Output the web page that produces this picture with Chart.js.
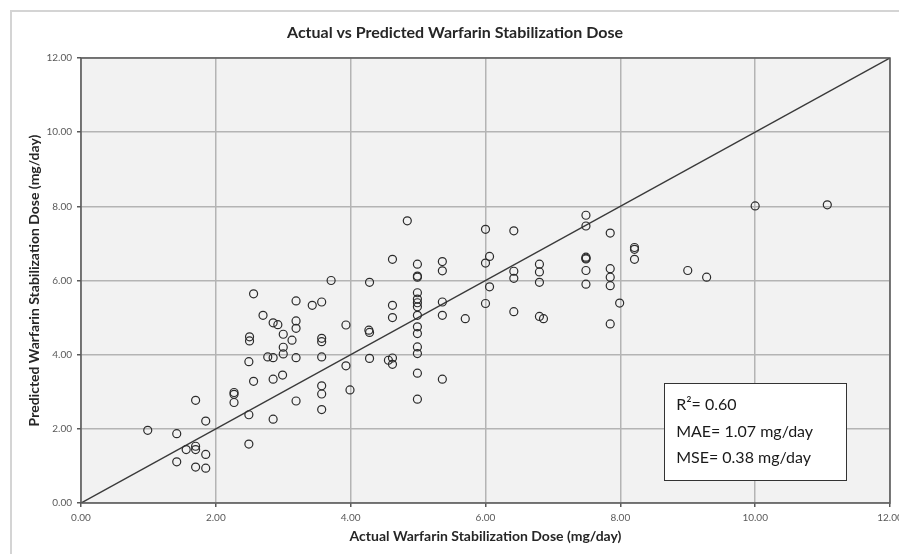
<!DOCTYPE html>
<html>
<head>
<meta charset="utf-8">
<script src="https://cdn.jsdelivr.net/npm/chart.js@4.4.1/dist/chart.umd.min.js"></script>
<style>
  html, body { margin: 0; padding: 0; background: #fff; }
  #wrap { position: relative; width: 899px; height: 554px; }
</style>
</head>
<body>
<div id="wrap"><canvas id="doseChart" width="899" height="554"></canvas></div>
<script>
// Actual vs predicted warfarin dose (mg/day)
const actualDose = [
  0.99, 1.42, 1.42, 1.56, 1.70, 1.70, 1.70, 1.70, 1.85, 1.85, 1.85,
  2.27, 2.27, 2.27, 2.49, 2.49, 2.49, 2.50, 2.50, 2.56, 2.56, 2.70, 2.77,
  2.85, 2.85, 2.85, 2.85, 2.92, 2.99, 3.00, 3.00, 3.00, 3.13,
  3.19, 3.19, 3.19, 3.19, 3.19, 3.43, 3.57, 3.57, 3.57, 3.57, 3.57, 3.57, 3.57,
  3.71, 3.93, 3.93, 3.99, 4.28, 4.27, 4.28, 4.28, 4.56, 4.62, 4.62, 4.62, 4.62, 4.62, 4.84,
  4.99, 4.99, 4.99, 4.99, 4.99, 4.99, 4.99, 4.99, 4.99, 4.99, 4.99, 4.99, 4.99, 4.99,
  5.36, 5.36, 5.36, 5.36, 5.36, 5.70,
  6.00, 6.06, 6.00, 6.06, 6.00, 6.42, 6.42, 6.42, 6.42,
  6.80, 6.80, 6.80, 6.80, 6.86,
  7.49, 7.49, 7.49, 7.49, 7.49, 7.49, 7.49,
  7.85, 7.85, 7.85, 7.85, 7.85, 7.99, 8.21, 8.21, 8.21,
  9.00, 9.28, 10.00, 11.07
];
const predictedDose = [
  1.96, 1.87, 1.11, 1.44, 1.53, 1.44, 0.97, 2.77, 0.94, 1.31, 2.21,
  2.98, 2.93, 2.71, 2.38, 1.59, 3.81, 4.48, 4.37, 3.28, 5.64, 5.06, 3.94,
  2.26, 3.34, 4.86, 3.92, 4.81, 3.45, 4.55, 4.20, 4.02, 4.39,
  2.75, 5.45, 4.91, 4.71, 3.92, 5.33, 5.42, 4.44, 4.35, 3.94, 3.16, 2.94, 2.52,
  6.00, 4.80, 3.70, 3.05, 5.95, 4.66, 4.60, 3.90, 3.85, 3.91, 3.74, 5.33, 5.00, 6.57, 7.61,
  6.44, 6.12, 6.09, 5.67, 5.50, 5.40, 5.29, 5.06, 4.75, 4.57, 4.21, 4.03, 3.50, 2.80,
  6.51, 6.26, 5.42, 5.06, 3.34, 4.97,
  7.38, 6.65, 6.47, 5.83, 5.38, 7.34, 6.25, 6.06, 5.16,
  6.44, 6.23, 5.95, 5.03, 4.97,
  7.76, 7.47, 6.63, 6.60, 6.58, 6.27, 5.90,
  7.28, 6.32, 6.09, 5.86, 4.83, 5.39, 6.89, 6.84, 6.57,
  6.27, 6.09, 8.01, 8.04
];
const identityLine = [0, 12];          // y = x reference line
const axisTicks = [0, 2, 4, 6, 8, 10, 12];
const statLines = ['R\u00B2= 0.60', 'MAE= 1.07 mg/day', 'MSE= 0.38 mg/day'];

const points = actualDose.map(function(x, i) { return { x: x, y: predictedDose[i] }; });
const lineData = identityLine.map(function(v) { return { x: v, y: v }; });

// plot background, outer frame, title
const backdrop = {
  id: 'backdrop',
  beforeDraw: function(chart) {
    const c = chart.ctx, a = chart.chartArea;
    c.save();
    c.fillStyle = '#f2f2f2';
    c.fillRect(a.left, a.top, a.right - a.left, a.bottom - a.top);
    c.strokeStyle = '#d4d4d4';
    c.lineWidth = 2;
    c.beginPath();
    c.moveTo(11, 560); c.lineTo(11, 11); c.lineTo(899, 11);
    c.stroke();
    c.fillStyle = '#262626';
    c.font = 'bold 16px Lato';
    c.textAlign = 'center';
    c.textBaseline = 'middle';
    c.fillText('Actual vs Predicted Warfarin Stabilization Dose', 455, 33);
    c.restore();
  },
  afterDraw: function(chart) {
    const a = chart.chartArea, c = chart.ctx;
    c.save();
    c.strokeStyle = '#595959';
    c.lineWidth = 1.5;
    c.strokeRect(a.left, a.top, a.right - a.left, a.bottom - a.top);
    c.restore();
  }
};

// stats box in the lower right corner
const statsBox = {
  id: 'statsBox',
  afterDraw: function(chart) {
    const xs = chart.scales.x, ys = chart.scales.y, c = chart.ctx;
    const left = xs.getPixelForValue(8.65), right = xs.getPixelForValue(11.35);
    const top = ys.getPixelForValue(3.23), bottom = ys.getPixelForValue(0.61);
    c.save();
    c.fillStyle = '#ffffff';
    c.fillRect(left, top, right - left, bottom - top);
    c.strokeStyle = '#333333';
    c.lineWidth = 1;
    c.strokeRect(Math.round(left) + 0.5, Math.round(top) + 0.5, Math.round(right - left), Math.round(bottom - top));
    c.fillStyle = '#1a1a1a';
    c.font = '16px Lato';
    c.textBaseline = 'middle';
    statLines.forEach(function(t, i) {
      c.fillText(t, left + 12, top + 22 + i * 26.5);
    });
    c.restore();
  }
};

new Chart(document.getElementById('doseChart').getContext('2d'), {
  type: 'scatter',
  data: {
    datasets: [
      {
        label: 'Patients',
        data: points,
        pointStyle: 'circle',
        pointRadius: 4,
        pointBorderWidth: 1.2,
        pointBorderColor: '#2b2b2b',
        pointBackgroundColor: 'rgba(0,0,0,0)',
        order: 1
      },
      {
        label: 'y = x',
        data: lineData,
        showLine: true,
        pointRadius: 0,
        borderColor: '#3a3a3a',
        borderWidth: 1.5,
        order: 2
      }
    ]
  },
  options: {
    responsive: false,
    animation: false,
    layout: { padding: { left: 0, right: 9, top: 58, bottom: 0 } },
    plugins: {
      legend: { display: false },
      tooltip: { enabled: false },
      title: { display: false }
    },
    scales: {
      x: {
        type: 'linear',
        min: 0,
        max: 12,
        afterBuildTicks: function(s) { s.ticks = axisTicks.map(function(v) { return { value: v }; }); },
        afterFit: function(s) { s.height = 51; s.paddingLeft = 0; s.paddingRight = 0; },
        grid: { color: '#b4b4b4', lineWidth: 1.5, tickLength: 4, tickColor: '#595959' },
        border: { display: false },
        ticks: {
          color: '#595959',
          font: { family: 'Lato', size: 10 },
          padding: 5,
          maxRotation: 0,
          callback: function(v) { return v.toFixed(2); }
        },
        title: {
          display: true,
          text: 'Actual Warfarin Stabilization Dose (mg/day)',
          color: '#262626',
          font: { family: 'Lato', size: 14, weight: 'bold' },
          padding: { top: 0, bottom: 9 }
        }
      },
      y: {
        type: 'linear',
        min: 0,
        max: 12,
        afterBuildTicks: function(s) { s.ticks = axisTicks.map(function(v) { return { value: v }; }); },
        afterFit: function(s) { s.width = 81; s.paddingTop = 0; s.paddingBottom = 0; },
        grid: { color: '#b4b4b4', lineWidth: 1.5, tickLength: 4, tickColor: '#595959' },
        border: { display: false },
        ticks: {
          color: '#595959',
          font: { family: 'Lato', size: 10 },
          padding: 5,
          callback: function(v) { return v.toFixed(2); }
        },
        title: {
          display: true,
          text: 'Predicted Warfarin Stabilization Dose (mg/day)',
          color: '#262626',
          font: { family: 'Lato', size: 14, weight: 'bold' },
          padding: { top: 26, bottom: 0 }
        }
      }
    }
  },
  plugins: [backdrop, statsBox]
});
</script>
</body>
</html>
